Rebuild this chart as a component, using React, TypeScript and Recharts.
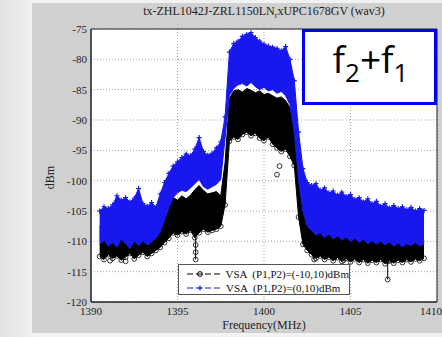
import {
  ComposedChart,
  Area,
  Scatter,
  XAxis,
  YAxis,
  CartesianGrid,
  ReferenceArea,
  Legend,
} from "recharts";

// frequency (MHz) sampled along the measured band
const freqs = [
  1390.5, 1390.75, 1391, 1391.25, 1391.5, 1391.75, 1392, 1392.25, 1392.5, 1392.75,
  1393, 1393.25, 1393.5, 1393.75, 1394, 1394.25, 1394.5, 1394.75, 1395, 1395.25,
  1395.5, 1395.75, 1396, 1396.25, 1396.5, 1396.75, 1397, 1397.25, 1397.5, 1397.75,
  1398, 1398.25, 1398.5, 1398.75, 1399, 1399.25, 1399.5, 1399.75, 1400, 1400.25,
  1400.5, 1400.75, 1401, 1401.25, 1401.5, 1401.75, 1402, 1402.25, 1402.5, 1402.75,
  1403, 1403.25, 1403.5, 1403.75, 1404, 1404.25, 1404.5, 1404.75, 1405, 1405.25,
  1405.5, 1405.75, 1406, 1406.25, 1406.5, 1406.75, 1407, 1407.25, 1407.5, 1407.75,
  1408, 1408.25, 1408.5, 1408.75, 1409, 1409.25,
];

// VSA (P1,P2)=(0,10)dBm  -> upper / lower edge of the trace cloud
const blueHi = [
  -105.0, -104.3, -104.6, -104.0, -102.5, -103.2, -102.8, -103.5, -102.9, -101.3,
  -103.8, -104.2, -103.6, -104.4, -102.2, -100.3, -98.8, -97.6, -96.9, -96.2,
  -95.6, -95.9, -94.8, -92.9, -95.2, -95.8, -95.5, -94.6, -93.6, -89.5,
  -78.8, -77.4, -77.0, -76.2, -75.9, -75.6, -76.4, -77.0, -77.5, -77.8,
  -78.0, -78.2, -78.6, -77.9, -80.0, -83.5, -92.0, -98.0, -100.3, -100.8,
  -100.5, -101.6, -101.2, -102.0, -101.7, -102.4, -101.9, -102.6, -102.3, -103.1,
  -102.8, -103.5, -103.0, -103.8, -103.4, -104.2, -103.8, -104.5, -104.1, -104.6,
  -104.3, -104.8, -104.4, -105.0, -104.6, -104.9,
];
const blueLo = [
  -110.5, -109.8, -110.8, -110.2, -111.0, -109.6, -110.4, -111.2, -110.0, -110.7,
  -109.9, -110.6, -110.1, -109.5, -108.5, -106.5, -104.5, -102.8, -102.0, -101.6,
  -101.8, -101.2, -100.5, -99.8, -101.0, -101.4, -101.0, -100.6, -99.8, -93.0,
  -86.0, -84.8, -84.2, -84.0, -84.4, -83.8, -84.5, -85.0, -84.6, -85.2,
  -85.0, -85.6, -85.3, -86.0, -87.5, -92.0, -100.0, -105.0, -107.5, -108.2,
  -109.0, -108.6, -109.4, -108.8, -109.6, -109.1, -109.8, -109.3, -110.0, -109.5,
  -110.2, -109.7, -110.4, -109.9, -110.5, -110.0, -110.6, -110.1, -110.8, -110.3,
  -110.9, -110.4, -110.7, -110.2, -110.8, -110.5,
];

// VSA (P1,P2)=(-10,10)dBm
const blackHi = [
  -107.5, -107.0, -107.8, -106.8, -107.2, -106.5, -107.4, -107.0, -106.8, -107.6,
  -107.1, -106.6, -106.2, -105.5, -105.0, -104.5, -103.6, -102.8, -103.2, -102.5,
  -103.0, -102.4, -101.5, -100.8, -101.6, -102.2, -102.0, -101.8, -102.5, -97.0,
  -86.5, -85.2, -85.0, -85.4, -84.8, -85.1, -85.5, -85.2, -85.8, -85.6,
  -86.0, -86.4, -86.2, -86.8, -88.0, -89.5, -97.0, -105.0, -106.5, -106.9,
  -107.2, -106.6, -107.0, -107.4, -106.8, -107.3, -106.9, -107.5, -107.0, -107.6,
  -107.2, -107.8, -107.3, -107.7, -107.1, -107.9, -107.4, -107.8, -107.2, -108.0,
  -107.5, -107.9, -107.4, -108.0, -107.6, -107.8,
];
const blackLo = [
  -112.5, -113.0, -112.2, -112.8, -112.4, -113.1, -112.6, -112.0, -112.9, -112.3,
  -111.8, -112.5, -112.0, -111.5, -111.0, -110.2, -109.5, -108.6, -109.0, -108.4,
  -108.8, -108.2, -109.4, -108.6, -108.0, -108.5, -108.2, -108.0, -107.5, -104.0,
  -93.5, -92.8, -93.2, -92.4, -92.0, -92.6, -92.2, -93.0, -93.4, -92.8,
  -94.0, -94.6, -95.2, -94.8, -96.0, -97.5, -106.0, -110.5, -111.5, -112.2,
  -112.8, -112.4, -113.0, -112.6, -113.2, -112.7, -113.3, -112.8, -113.4, -112.9,
  -113.5, -113.0, -113.6, -113.1, -113.5, -113.0, -113.7, -113.2, -113.6, -113.1,
  -113.5, -113.0, -113.4, -112.9, -113.2, -112.8,
];

// single dropped samples hanging below the cloud: [freq, top, bottom]
const stems = [
  [1396.05, -108.6, -113.0],
  [1402.9, -112.0, -113.0],
  [1404.6, -112.6, -113.1],
  [1407.15, -113.3, -116.3],
];
const outlierFreqs = [1396.05, 1396.05, 1400.75, 1400.9, 1391.1, 1392.0];
const outlierVals = [-110.6, -111.8, -99.0, -97.6, -113.2, -113.3];

const xTicks = [1390, 1395, 1400, 1405, 1410];
const yTicks = [-120, -115, -110, -105, -100, -95, -90, -85, -80, -75];

const BLUE = "#1818ee";
const SERIF = '"Liberation Serif", "Times New Roman", serif';

const rows = freqs.map((f, i) => ({
  f,
  blue: [blueLo[i], blueHi[i]],
  black: [blackLo[i], blackHi[i]],
  bLo: blackLo[i],
  uHi: blueHi[i],
}));
const outliers = outlierFreqs.map((f, i) => ({ f, v: outlierVals[i] }));

const Ring = (p: any) => (
  <circle cx={p.cx} cy={p.cy} r={2.4} fill="none" stroke="#000" strokeWidth={0.8} />
);
const Plus = (p: any) => (
  <path
    d={`M${p.cx - 2.5},${p.cy}h5M${p.cx},${p.cy - 2.5}v5`}
    stroke={BLUE}
    strokeWidth={1.2}
  />
);

function LegendBox() {
  const item = (color: string, label: string, marker: "o" | "+") => (
    <div style={{ display: "flex", alignItems: "center", height: 14 }}>
      <svg width={34} height={10} style={{ marginLeft: 8, marginRight: 5 }}>
        <line x1={0} y1={5} x2={34} y2={5} stroke={color} strokeDasharray="6 3" />
        {marker === "o" ? (
          <circle cx={13} cy={5} r={2.4} fill="none" stroke={color} />
        ) : (
          <path d="M10.5,5h5M13,2.5v5" stroke={color} strokeWidth={1.2} />
        )}
      </svg>
      <span>{label}</span>
    </div>
  );
  return (
    <div
      style={{
        width: 172,
        height: 31,
        boxSizing: "border-box",
        border: "1px solid #555",
        background: "#fff",
        fontFamily: SERIF,
        fontSize: 11,
        color: "#111",
        paddingTop: 2,
        whiteSpace: "pre",
      }}
    >
      {item("#000", "VSA  (P1,P2)=(-10,10)dBm", "o")}
      {item(BLUE, "VSA  (P1,P2)=(0,10)dBm", "+")}
    </div>
  );
}

export default function App() {
  return (
    <div
      style={{
        position: "absolute",
        left: 0,
        top: 0,
        width: 442,
        height: 337,
        overflow: "hidden",
        background: "linear-gradient(to right, #e3e3e3, #f3f3f3 40px, #f0f0f0)",
        fontFamily: SERIF,
      }}
    >
      <div
        style={{
          position: "absolute",
          left: 32,
          top: 3,
          width: 410,
          height: 330,
          background: "#d0d0d0",
        }}
      />
      <div style={{ position: "absolute", left: 0, top: 0 }}>
        <ComposedChart
          width={442}
          height={337}
          data={rows}
          margin={{ top: 29, right: 5, bottom: 0, left: 30 }}
        >
          <CartesianGrid
            fill="#fff"
            stroke="#a0a0a0"
            strokeDasharray="1 2"
          />
          <XAxis
            type="number"
            dataKey="f"
            domain={[1390, 1410]}
            ticks={xTicks}
            allowDataOverflow
            height={35}
            tickSize={0}
            tickMargin={5}
            tickLine={false}
            axisLine={{ stroke: "#222" }}
            tick={{ fontSize: 11, fill: "#222", fontFamily: SERIF }}
          />
          <YAxis
            type="number"
            domain={[-120, -75]}
            ticks={yTicks}
            allowDataOverflow
            width={61}
            tickSize={0}
            tickMargin={4}
            tickLine={false}
            axisLine={{ stroke: "#222" }}
            tick={{ fontSize: 11, fill: "#222", fontFamily: SERIF }}
          />
          <Area
            type="linear"
            dataKey="black"
            stroke="#000"
            strokeWidth={1}
            fill="#000"
            fillOpacity={1}
            isAnimationActive={false}
          />
          <Scatter
            data={rows}
            dataKey="bLo"
            shape={Ring}
            isAnimationActive={false}
          />
          {stems.map((s, i) => (
            <Scatter
              key={i}
              data={[
                { f: s[0], v: s[1] },
                { f: s[0], v: s[2] },
              ]}
              dataKey="v"
              line={{ stroke: "#000", strokeWidth: 1 }}
              shape={Ring}
              isAnimationActive={false}
            />
          ))}
          <Scatter
            data={outliers}
            dataKey="v"
            shape={Ring}
            isAnimationActive={false}
          />
          <Area
            type="linear"
            dataKey="blue"
            stroke={BLUE}
            strokeWidth={1}
            fill={BLUE}
            fillOpacity={1}
            isAnimationActive={false}
          />
          <Scatter
            data={rows}
            dataKey="uHi"
            shape={Plus}
            isAnimationActive={false}
          />
          <ReferenceArea
            x1={1390}
            x2={1410}
            y1={-120}
            y2={-75}
            fill="none"
            stroke="#222"
            strokeWidth={1}
          />
          <Legend
            layout="vertical"
            align="center"
            verticalAlign="middle"
            wrapperStyle={{ left: 178, top: 264, width: 172 }}
            content={() => <LegendBox />}
          />
        </ComposedChart>
      </div>
      <div
        style={{
          position: "absolute",
          left: 91,
          top: 4,
          width: 346,
          textAlign: "center",
          fontSize: 12,
          color: "#222",
          whiteSpace: "nowrap",
        }}
      >
        tx-ZHL1042J-ZRL1150LN
        <sub style={{ fontSize: 8 }}>r</sub>
        xUPC1678GV (wav3)
      </div>
      <div
        style={{
          position: "absolute",
          left: 30,
          top: 170,
          width: 40,
          textAlign: "center",
          fontSize: 12,
          color: "#222",
          transform: "rotate(-90deg)",
        }}
      >
        dBm
      </div>
      <div
        style={{
          position: "absolute",
          left: 91,
          top: 318,
          width: 346,
          textAlign: "center",
          fontSize: 12,
          color: "#222",
        }}
      >
        Frequency(MHz)
      </div>
      <div
        style={{
          position: "absolute",
          left: 302,
          top: 29,
          width: 135,
          height: 76,
          boxSizing: "border-box",
          border: "3px solid #0000ff",
          background: "#fff",
          fontFamily: '"Open Sans", "Noto Sans", sans-serif',
          fontWeight: 500,
          fontSize: 37,
          lineHeight: "37px",
          color: "#000",
          paddingTop: 8,
          paddingLeft: 2,
          textAlign: "center",
          whiteSpace: "nowrap",
        }}
      >
        f<sub style={{ fontSize: 26, verticalAlign: -9 }}>2</sub>+f
        <sub style={{ fontSize: 26, verticalAlign: -9 }}>1</sub>
      </div>
    </div>
  );
}
